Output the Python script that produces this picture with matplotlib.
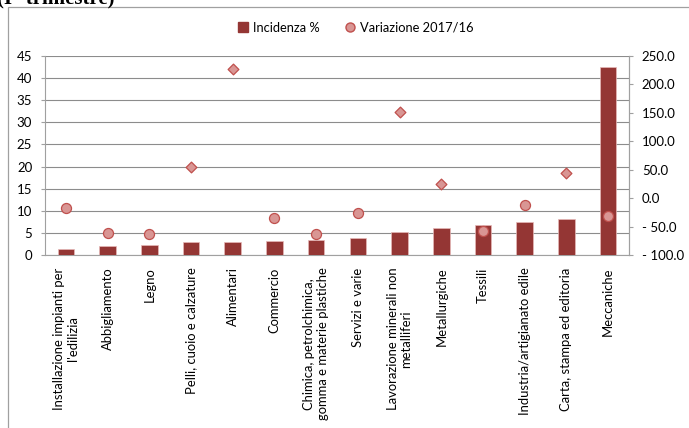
import matplotlib
matplotlib.use("Agg")
import matplotlib.pyplot as plt
import numpy as np
from matplotlib.patches import Rectangle
from matplotlib.lines import Line2D
from matplotlib.ticker import FuncFormatter

plt.rcParams['font.family'] = ['Lato', 'DejaVu Sans']

categories = [
    "Installazione impianti per\nl'edilizia",
    "Abbigliamento",
    "Legno",
    "Pelli, cuoio e calzature",
    "Alimentari",
    "Commercio",
    "Chimica, petrolchimica,\ngomma e materie plastiche",
    "Servizi e varie",
    "Lavorazione minerali non\nmetalliferi",
    "Metallurgiche",
    "Tessili",
    "Industria/artigianato edile",
    "Carta, stampa ed editoria",
    "Meccaniche",
]
incidenza = [1.4, 1.95, 2.2, 3.0, 2.95, 3.2, 3.4, 3.85, 5.3, 6.0, 6.8, 7.5, 8.15, 42.4]
variazione = [-18.0, -60.5, -63.5, 54.0, 227.0, -34.5, -63.5, -26.5, 151.0, 24.5, -58.0, -11.5, 45.0, -31.5]

W, H = 689, 428
fig = plt.figure(figsize=(W / 100, H / 100), dpi=100)

# chart frame (Excel chart area border, partially cut)
fig.patches.append(Rectangle((8 / W, -0.1), 1.2, (H - 7) / H + 0.1, transform=fig.transFigure,
                             fill=False, edgecolor='#A0A0A0', linewidth=0.9))
# cut-off title
fig.text(-0.005, (H - 3) / H, "(I° trimestre)", family='Liberation Serif', fontweight='bold',
         fontsize=15, va='baseline', ha='left', color='black')

ax = fig.add_axes([45 / W, (H - 255) / H, (629 - 45) / W, (255 - 56) / H])
x = np.arange(len(categories))
ax.bar(x, incidenza, width=0.4, color='#943634', edgecolor='#E6B9B8', linewidth=0.5, zorder=3)
ax.set_xlim(-0.5, len(categories) - 0.5)
ax.set_ylim(0, 45)
ax.set_yticks(np.arange(0, 46, 5))
ax.yaxis.grid(True, color='#8C8C8C', linewidth=0.8, zorder=0)
ax.set_axisbelow(True)
ax.set_xticks(x)
ax.set_xticklabels(categories, rotation=90, fontsize=9.4, ha='center', va='top',
                   multialignment='center')
ax.tick_params(axis='x', length=0, pad=9)
ax.tick_params(axis='y', length=3.2, width=0.8, color='#A0A0A0', pad=6, labelsize=9.5)
for s in ['top']:
    ax.spines[s].set_visible(False)
for s in ['left', 'right', 'bottom']:
    ax.spines[s].set_color('#A0A0A0')
    ax.spines[s].set_linewidth(0.8)

ax2 = ax.twinx()
ax2.set_ylim(-100, 250)
ax2.set_yticks(np.arange(-100, 251, 50))
ax2.yaxis.set_major_formatter(FuncFormatter(lambda v, p: ("- %.1f" % abs(v)) if v < 0 else "%.1f" % v))
ax2.tick_params(axis='y', length=3.2, width=0.8, color='#A0A0A0', pad=6, labelsize=9.5)
for s in ['top', 'left', 'bottom']:
    ax2.spines[s].set_visible(False)
ax2.spines['right'].set_color('#A0A0A0')
ax2.spines['right'].set_linewidth(0.8)

v = np.array(variazione)
pos = v >= 0
ax2.scatter(x[~pos], v[~pos], marker='o', s=52, facecolor='#D99694', edgecolor='#C0504D',
            linewidth=0.9, zorder=4)
ax2.scatter(x[pos], v[pos], marker='D', s=30, facecolor='#D99694', edgecolor='#C0504D',
            linewidth=0.9, zorder=4)

handles = [
    Line2D([], [], marker='s', linestyle='none', markersize=6.5, markerfacecolor='#943634',
           markeredgecolor='#943634'),
    Line2D([], [], marker='o', linestyle='none', markersize=6.5, markerfacecolor='#D99694',
           markeredgecolor='#C0504D'),
]
fig.legend(handles, ["Incidenza %", "Variazione 2017/16"], loc='center',
           bbox_to_anchor=(355 / W, (H - 28) / H), ncol=2, frameon=False, fontsize=9.3,
           handletextpad=0.3, columnspacing=1.8, handlelength=1.0)

fig.savefig("out.png", dpi=100)
